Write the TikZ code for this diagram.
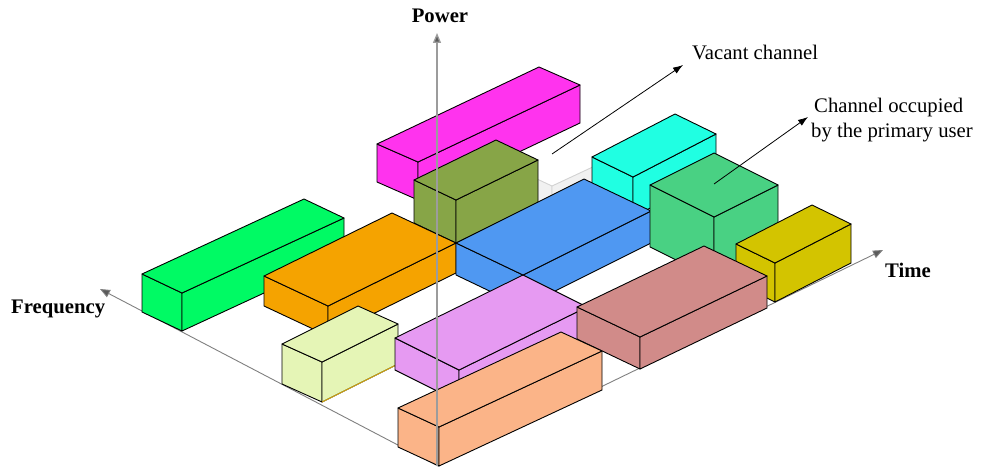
\documentclass[tikz,border=0pt]{standalone}
\usepackage{fontspec}
\setmainfont{Liberation Serif}
\usetikzlibrary{arrows.meta}
\definecolor{cmag}{HTML}{FF33EE}
\definecolor{colive}{HTML}{87A547}
\definecolor{cbgreen}{HTML}{00FA64}
\definecolor{corange}{HTML}{F5A300}
\definecolor{cblue}{HTML}{4F98F2}
\definecolor{ccyan}{HTML}{20FFE2}
\definecolor{cmgreen}{HTML}{49D183}
\definecolor{cyellow}{HTML}{D3C400}
\definecolor{clyellow}{HTML}{E5F5B6}
\definecolor{cpink}{HTML}{E69AF2}
\definecolor{cbrown}{HTML}{D18B89}
\definecolor{cpeach}{HTML}{FBB488}
\definecolor{cghostfill}{HTML}{F1F1F1}
\definecolor{cghostedge}{HTML}{D2D2D2}
\definecolor{caxis}{HTML}{808080}
\definecolor{caxtip}{HTML}{5A5A5A}
\definecolor{cpower}{HTML}{9C9C9C}
% #1 x0, #2 y0 (front bottom corner), #3 L, #4 rise over L, #5 W, #6 rise over W, #7 H, #8 colour
\newcommand{\cuboid}[8]{%
  \filldraw[boxedge,fill=#8] (#1,#2) -- (#1,{#2-#7}) -- ({#1-#5},{#2-#6-#7}) -- ({#1-#5},{#2-#6}) -- cycle;
  \filldraw[boxedge,fill=#8] (#1,#2) -- ({#1+#3},{#2-#4}) -- ({#1+#3},{#2-#4-#7}) -- (#1,{#2-#7}) -- cycle;
  \filldraw[boxedge,fill=#8] (#1,{#2-#7}) -- ({#1+#3},{#2-#4-#7}) -- ({#1+#3-#5},{#2-#4-#6-#7}) -- ({#1-#5},{#2-#6-#7}) -- cycle;
}
\begin{document}
\begin{tikzpicture}[x=1pt,y=-1pt,
  boxedge/.style={draw=black,line width=0.9pt,line join=round},
  ghostedge/.style={draw=cghostedge,line width=0.9pt,line join=round,fill=cghostfill},
  axisline/.style={draw=caxis,line width=0.9pt,-{Triangle[length=10pt,width=8pt]},color=caxis},
  ptr/.style={draw=black,line width=0.8pt,-{Latex[length=10pt,width=7pt]}},
  axlabel/.style={font=\fontsize{20.7}{25}\selectfont\bfseries,inner sep=0pt},
  txtlabel/.style={font=\fontsize{20.7}{25}\selectfont,inner sep=0pt}]
\useasboundingbox (0,0) rectangle (981,468);
\fill[white] (0,0) rectangle (981,468);
% axes (beneath the boxes)
\coordinate (O) at (438,466);
\coordinate (ftip) at (100,289);
\coordinate (ttip) at (883,250);
\coordinate (ptip) at (437,33);
\coordinate (pbase) at (437,466);
\draw[axisline,-{Triangle[length=10pt,width=8pt,fill=caxtip]}] (O) -- (ftip);
\draw[axisline,-{Triangle[length=10pt,width=8pt,fill=caxtip]}] (O) -- (ttip);
% boxes, back to front
\cuboid{418}{200}{162}{77}{41}{18}{38}{cmag}
% vacant channel (ghost)
\filldraw[ghostedge] (552,216) -- (552,186) -- (522,172) -- (522,202) -- cycle;
\filldraw[ghostedge] (552,216) -- (597,195) -- (597,165) -- (552,186) -- cycle;
\cuboid{633}{217}{83}{43}{41}{20}{40}{ccyan}
\cuboid{456}{243}{82}{40}{42}{20}{43}{colive}
\cuboid{182}{331}{162}{75}{40}{19}{38}{cbgreen}
\cuboid{328}{336}{128}{63}{64}{30}{30}{corange}
\cuboid{523}{307}{128}{64}{67}{32}{32}{cblue}
\cuboid{714}{279}{64}{32}{64}{32}{62}{cmgreen}
\cuboid{775}{302}{76}{39}{39}{19}{39}{cyellow}
\cuboid{322}{402}{76}{38}{40}{18}{40}{clyellow}
\draw[draw={rgb,255:red,224;green,176;blue,20},line width=0.9pt] (322,402) -- (398,364);
\cuboid{459}{402}{128}{63}{64}{32}{32}{cpink}
\cuboid{640}{369}{127}{61}{63}{30}{32}{cbrown}
\cuboid{439}{466}{163}{76}{41}{19}{39}{cpeach}
% power axis (over the boxes)
\draw[draw=cpower,line width=1.3pt,-{Triangle[length=10pt,width=8pt,fill=caxtip]},color=cpower] (pbase) -- (ptip);
% labels
\node[axlabel,anchor=base] (power) at (440,23) {Power};
\node[axlabel,anchor=base west] (freq) at (11,313) {Frequency};
\node[axlabel,anchor=base west] (time) at (885,277) {Time};
\node[txtlabel,anchor=base west] (vacant) at (692,60) {Vacant channel};
\node[txtlabel,anchor=base west] (occ1) at (814,112) {Channel occupied};
\node[txtlabel,anchor=base west] (occ2) at (811,137) {by the primary user};
% pointers
\coordinate (vacfoot) at (552,154);
\coordinate (vactip) at (683,65);
\coordinate (occfoot) at (714,184);
\coordinate (occtip) at (808,117);
\draw[ptr] (vacfoot) -- (vactip);
\draw[ptr] (occfoot) -- (occtip);
\end{tikzpicture}
\end{document}
